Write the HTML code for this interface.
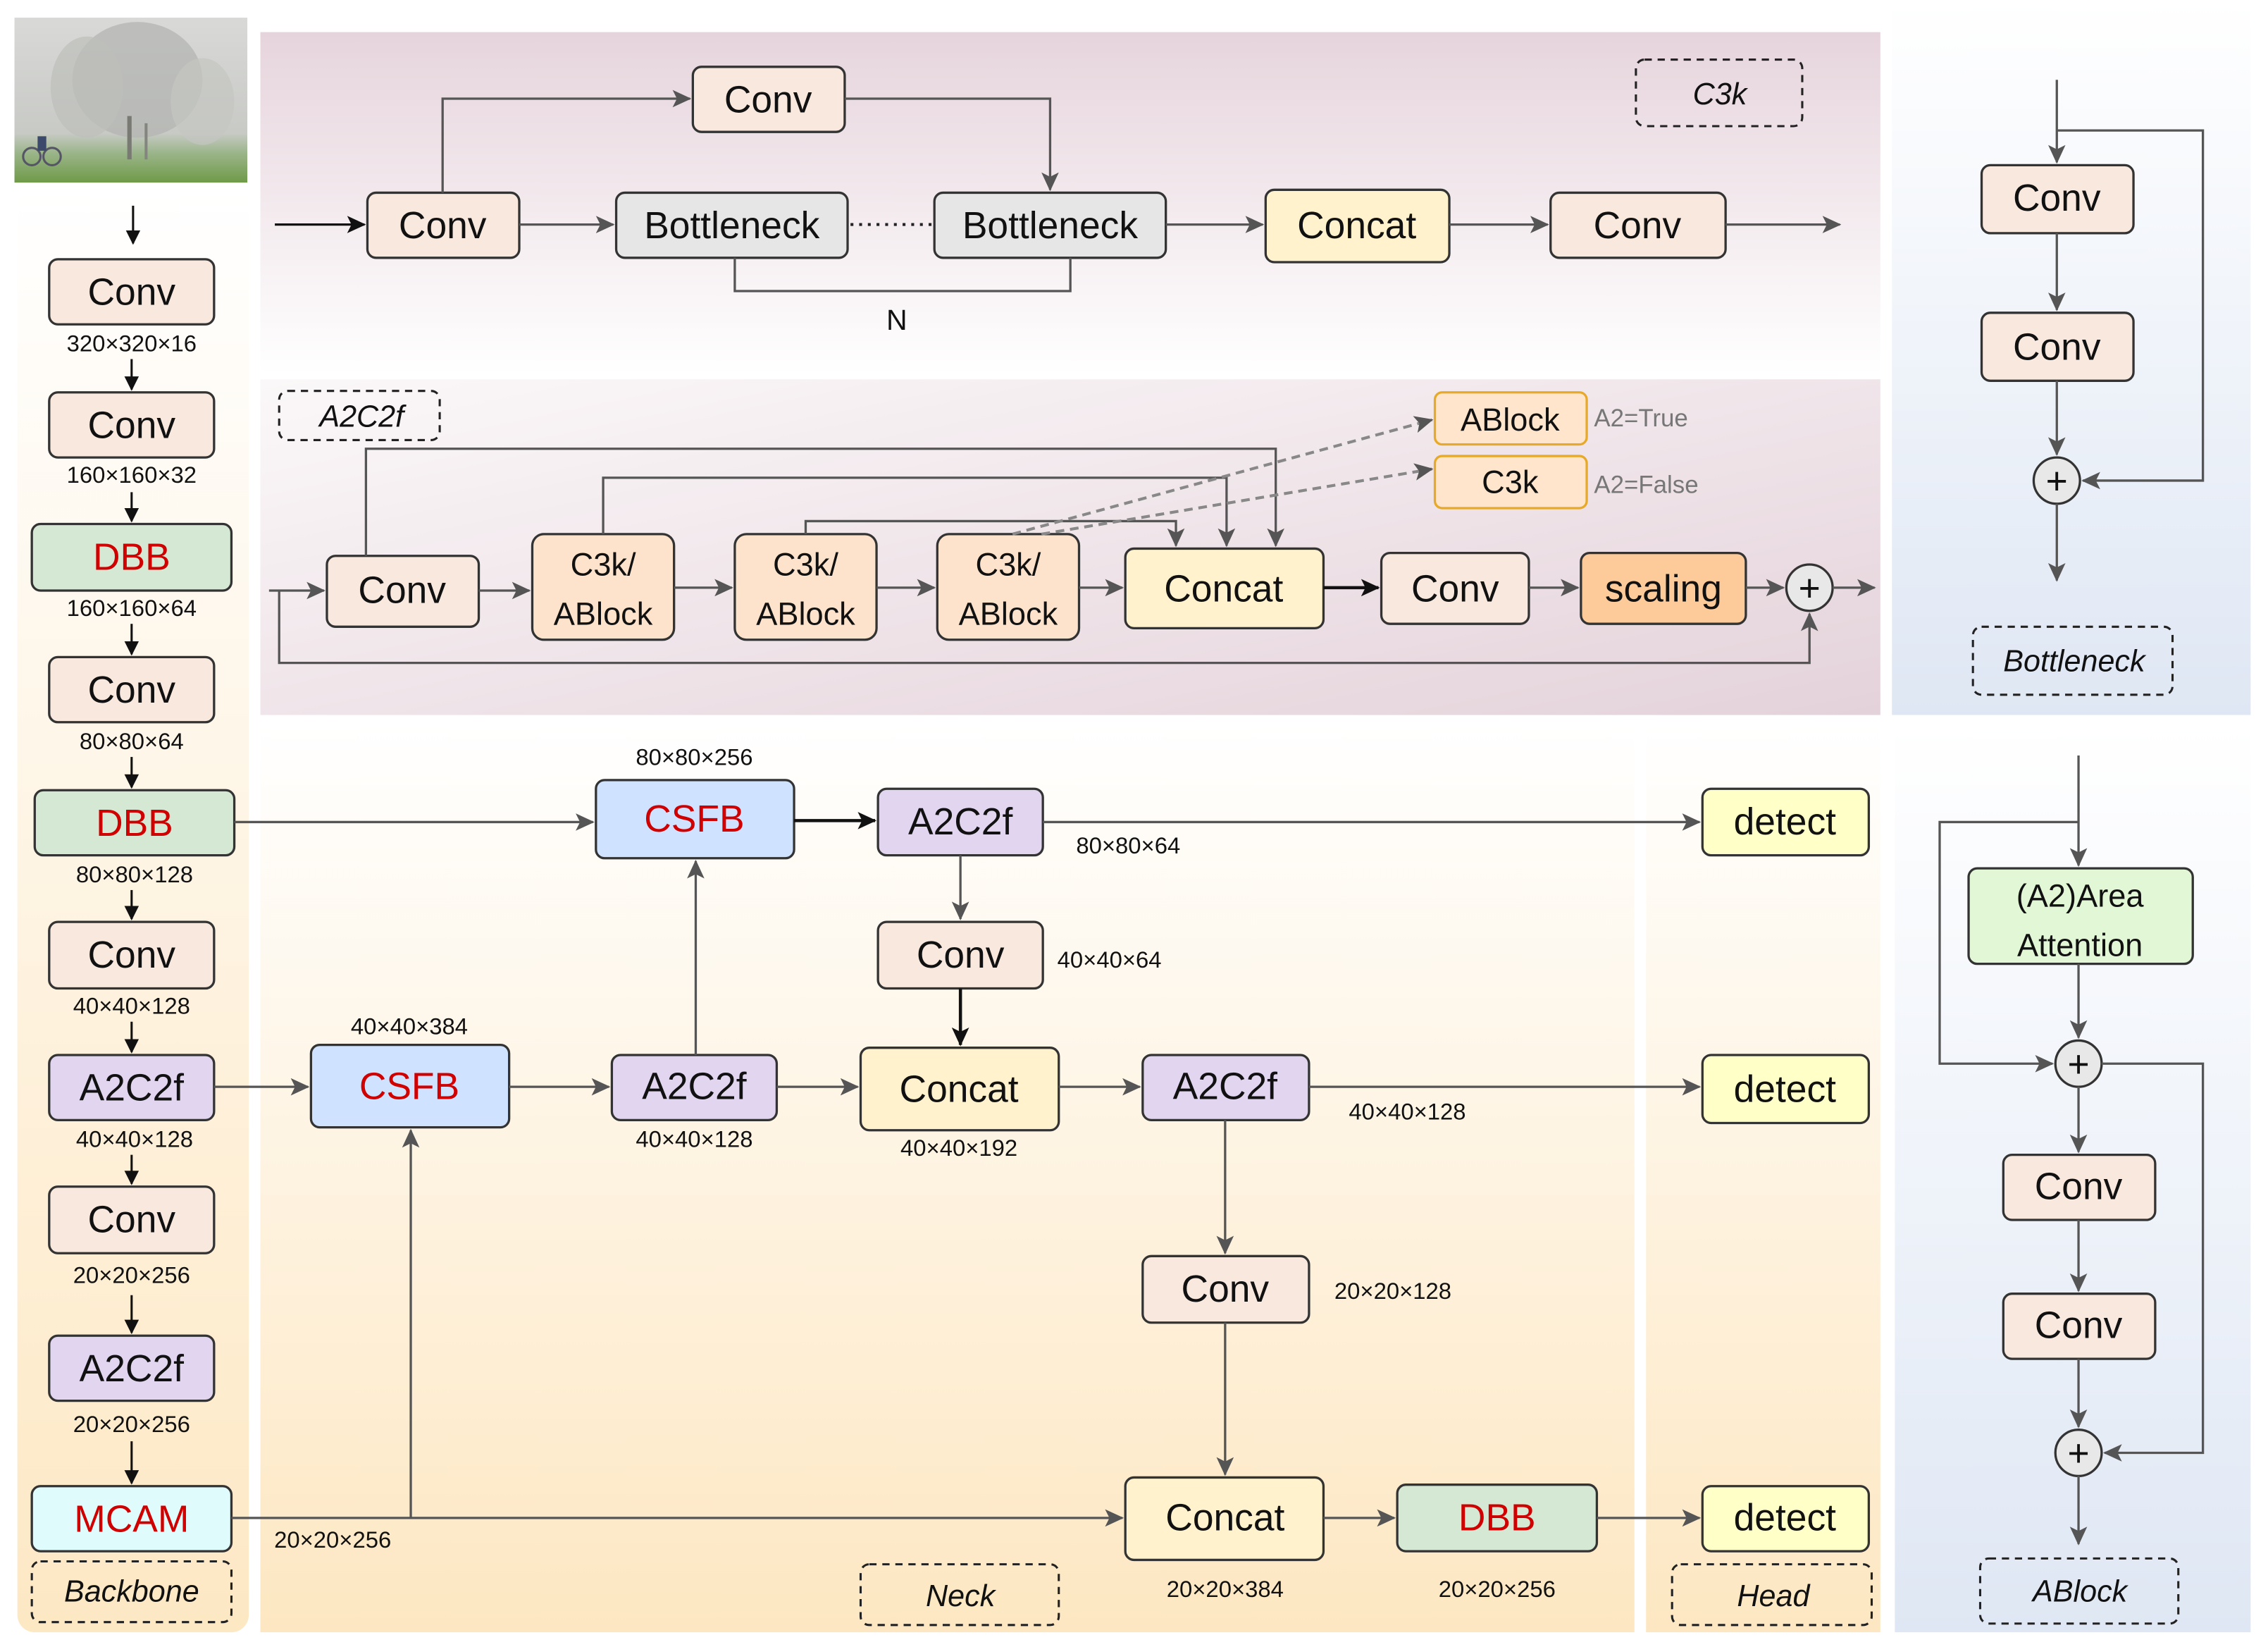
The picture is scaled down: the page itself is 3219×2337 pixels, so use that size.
<!DOCTYPE html>
<html><head><meta charset="utf-8"><style>
html,body{margin:0;padding:0;background:#fff;}
svg{display:block;}
text{font-family:"Liberation Sans",Arial,sans-serif;}
</style></head><body>
<svg width="3219" height="2337" viewBox="0 0 1568 1138" xmlns="http://www.w3.org/2000/svg">
<defs>
<marker id="ag" markerUnits="userSpaceOnUse" markerWidth="14" markerHeight="12" refX="12" refY="6" orient="auto"><path d="M0,0 L13,6 L0,12 L3,6 z" fill="#555"/></marker>
<marker id="ak" markerUnits="userSpaceOnUse" markerWidth="14" markerHeight="12" refX="12" refY="6" orient="auto"><path d="M0,0 L13,6 L0,12 L3,6 z" fill="#111"/></marker>
<marker id="as" markerUnits="userSpaceOnUse" markerWidth="10" markerHeight="10" refX="9" refY="5" orient="auto"><path d="M0,0 L10,5 L0,10 z" fill="#111"/></marker>
<linearGradient id="gbb" x1="0" y1="0" x2="0" y2="1"><stop offset="0" stop-color="#ffffff"/><stop offset="1" stop-color="#fde8c4"/></linearGradient>
<linearGradient id="gtop" x1="0" y1="0" x2="0" y2="1"><stop offset="0" stop-color="#e6d4dc"/><stop offset="1" stop-color="#ffffff"/></linearGradient>
<linearGradient id="gmid" x1="0" y1="0" x2="1" y2="1"><stop offset="0" stop-color="#fbf8f9"/><stop offset="1" stop-color="#e4d2da"/></linearGradient>
<linearGradient id="gblue" x1="0" y1="0" x2="0" y2="1"><stop offset="0" stop-color="#ffffff"/><stop offset="1" stop-color="#dfe7f4"/></linearGradient>
<linearGradient id="gneck" x1="0" y1="0" x2="0" y2="1"><stop offset="0" stop-color="#ffffff"/><stop offset="1" stop-color="#fde7c2"/></linearGradient>
<linearGradient id="gimg" x1="0" y1="0" x2="0" y2="1"><stop offset="0" stop-color="#d9d9d7"/><stop offset="0.7" stop-color="#c8cac6"/><stop offset="0.82" stop-color="#9bb58a"/><stop offset="1" stop-color="#6f9a48"/></linearGradient>
</defs>

<!-- panels -->
<rect x="12" y="130" width="160" height="998" rx="12" fill="url(#gbb)"/>
<rect x="180" y="22" width="1120" height="236" fill="url(#gtop)"/>
<rect x="180" y="262" width="1120" height="232" fill="url(#gmid)"/>
<rect x="1308" y="0" width="248" height="494" fill="url(#gblue)"/>
<rect x="180" y="500" width="950" height="628" fill="url(#gneck)"/>
<rect x="1138" y="500" width="162" height="628" fill="url(#gneck)"/>
<rect x="1310" y="500" width="246" height="628" fill="url(#gblue)"/>

<!-- image -->
<rect x="10" y="12" width="161" height="114" fill="url(#gimg)"/>
<ellipse cx="95" cy="55" rx="45" ry="40" fill="#b2b4b0" opacity="0.7"/>
<ellipse cx="60" cy="60" rx="25" ry="35" fill="#bdbfbb" opacity="0.7"/>
<ellipse cx="140" cy="70" rx="22" ry="30" fill="#c4c6c2" opacity="0.7"/>
<rect x="88" y="80" width="3" height="30" fill="#7a7a74"/>
<rect x="100" y="85" width="2" height="25" fill="#85857f"/>
<circle cx="22" cy="108" r="6" fill="none" stroke="#556" stroke-width="1.5"/>
<circle cx="36" cy="108" r="6" fill="none" stroke="#556" stroke-width="1.5"/>
<rect x="26" y="94" width="6" height="10" fill="#3b4a6b"/>

<g stroke="#333" stroke-width="1.6">
<!-- backbone boxes -->
<rect x="34" y="179" width="114" height="45" rx="6" fill="#f8e8de"/>
<rect x="34" y="271" width="114" height="45" rx="6" fill="#f8e8de"/>
<rect x="22" y="362" width="138" height="46" rx="6" fill="#d5e8d4"/>
<rect x="34" y="454" width="114" height="45" rx="6" fill="#f8e8de"/>
<rect x="24" y="546" width="138" height="45" rx="6" fill="#d5e8d4"/>
<rect x="34" y="637" width="114" height="46" rx="6" fill="#f8e8de"/>
<rect x="34" y="729" width="114" height="45" rx="6" fill="#e1d5f0"/>
<rect x="34" y="820" width="114" height="46" rx="6" fill="#f8e8de"/>
<rect x="34" y="923" width="114" height="45" rx="6" fill="#e1d5f0"/>
<rect x="22" y="1027" width="138" height="45" rx="6" fill="#e0fbfb"/>

<!-- C3k -->
<rect x="254" y="133" width="105" height="45" rx="6" fill="#f8e8de"/>
<rect x="479" y="46" width="105" height="45" rx="6" fill="#f8e8de"/>
<rect x="426" y="133" width="160" height="45" rx="6" fill="#e6e6e6"/>
<rect x="646" y="133" width="160" height="45" rx="6" fill="#e6e6e6"/>
<rect x="875" y="131" width="127" height="50" rx="6" fill="#fff2cc"/>
<rect x="1072" y="133" width="121" height="45" rx="6" fill="#f8e8de"/>

<!-- A2C2f -->
<rect x="226" y="384" width="105" height="49" rx="6" fill="#f8e8de"/>
<rect x="368" y="369" width="98" height="73" rx="8" fill="#fde3cb"/>
<rect x="508" y="369" width="98" height="73" rx="8" fill="#fde3cb"/>
<rect x="648" y="369" width="98" height="73" rx="8" fill="#fde3cb"/>
<rect x="778" y="379" width="137" height="55" rx="6" fill="#fff2cc"/>
<rect x="955" y="382" width="102" height="49" rx="6" fill="#f8e8de"/>
<rect x="1093" y="382" width="114" height="49" rx="6" fill="#fdcb9a"/>
<circle cx="1251" cy="406" r="16" fill="#e8e8e8"/>

<!-- Bottleneck -->
<rect x="1370" y="114" width="105" height="47" rx="6" fill="#f8e8de"/>
<rect x="1370" y="216" width="105" height="47" rx="6" fill="#f8e8de"/>
<circle cx="1422" cy="332" r="16" fill="#e8e8e8"/>

<!-- Neck -->
<rect x="412" y="539" width="137" height="54" rx="6" fill="#cfe2ff"/>
<rect x="607" y="545" width="114" height="46" rx="6" fill="#e1d5f0"/>
<rect x="607" y="637" width="114" height="46" rx="6" fill="#f8e8de"/>
<rect x="595" y="724" width="137" height="57" rx="6" fill="#fff2cc"/>
<rect x="215" y="722" width="137" height="57" rx="6" fill="#cfe2ff"/>
<rect x="423" y="729" width="114" height="45" rx="6" fill="#e1d5f0"/>
<rect x="790" y="729" width="115" height="45" rx="6" fill="#e1d5f0"/>
<rect x="790" y="868" width="115" height="46" rx="6" fill="#f8e8de"/>
<rect x="778" y="1021" width="137" height="57" rx="6" fill="#fff2cc"/>
<rect x="966" y="1026" width="138" height="46" rx="6" fill="#d5e8d4"/>
<rect x="1177" y="545" width="115" height="46" rx="6" fill="#ffffc8"/>
<rect x="1177" y="729" width="115" height="47" rx="6" fill="#ffffc8"/>
<rect x="1177" y="1027" width="115" height="45" rx="6" fill="#ffffc8"/>

<!-- ABlock -->
<rect x="1361" y="600" width="155" height="66" rx="6" fill="#e2f7d6"/>
<circle cx="1437" cy="735" r="16" fill="#e8e8e8"/>
<rect x="1385" y="798" width="105" height="45" rx="6" fill="#f8e8de"/>
<rect x="1385" y="894" width="105" height="45" rx="6" fill="#f8e8de"/>
<circle cx="1437" cy="1004" r="16" fill="#e8e8e8"/>
</g>

<!-- orange option boxes -->
<rect x="992" y="271" width="105" height="36" rx="5" fill="#ffe5cc" stroke="#e6a92a" stroke-width="1.6"/>
<rect x="992" y="315" width="105" height="36" rx="5" fill="#ffe5cc" stroke="#e6a92a" stroke-width="1.6"/>

<!-- dashed labels -->
<g fill="none" stroke="#222" stroke-width="1.5" stroke-dasharray="5,4">
<rect x="22" y="1079" width="138" height="42" rx="6"/>
<rect x="1131" y="41" width="115" height="46" rx="6"/>
<rect x="193" y="270" width="111" height="34" rx="6"/>
<rect x="1364" y="433" width="138" height="47" rx="6"/>
<rect x="595" y="1081" width="137" height="42" rx="6"/>
<rect x="1156" y="1081" width="138" height="42" rx="6"/>
<rect x="1369" y="1077" width="137" height="45" rx="6"/>
</g>

<!-- backbone arrows -->
<g stroke="#111" stroke-width="1.5" fill="none" marker-end="url(#as)">
<path d="M92,142 V168"/>
<path d="M91,248 V269"/>
<path d="M91,340 V360"/>
<path d="M91,431 V452"/>
<path d="M91,523 V544"/>
<path d="M91,615 V635"/>
<path d="M91,706 V727"/>
<path d="M91,798 V818"/>
<path d="M91,895 V921"/>
<path d="M91,996 V1025"/>
</g>

<!-- gray connectors -->
<g stroke="#555" stroke-width="1.6" fill="none" marker-end="url(#ag)">
<path d="M190,155 H252" stroke="#111" marker-end="url(#ak)"/>
<path d="M306,133 V68 H477"/>
<path d="M584,68 H726 V131"/>
<path d="M359,155 H424"/>
<path d="M806,155 H873"/>
<path d="M1002,155 H1070"/>
<path d="M1193,155 H1272"/>
<path d="M186,408 H224"/>
<path d="M193,408 V458 H1251 V424"/>
<path d="M253,384 V310 H882 V377"/>
<path d="M417,369 V330 H848 V377"/>
<path d="M557,369 V360 H813 V377"/>
<path d="M331,408 H366"/>
<path d="M466,406 H506"/>
<path d="M606,406 H646"/>
<path d="M746,406 H776"/>
<path d="M1057,406 H1091"/>
<path d="M1207,406 H1233"/>
<path d="M1267,406 H1296"/>
<path d="M1422,55 V112"/>
<path d="M1422,161 V214"/>
<path d="M1422,263 V314"/>
<path d="M1422,90 H1523 V332 H1440"/>
<path d="M1422,348 V401"/>
<path d="M162,568 H410"/>
<path d="M721,568 H1175"/>
<path d="M664,591 V635"/>
<path d="M148,751 H213"/>
<path d="M352,751 H421"/>
<path d="M481,729 V595"/>
<path d="M537,751 H593"/>
<path d="M732,751 H788"/>
<path d="M905,751 H1175"/>
<path d="M847,774 V866"/>
<path d="M847,914 V1019"/>
<path d="M160,1049 H776"/>
<path d="M284,1049 V781"/>
<path d="M915,1049 H964"/>
<path d="M1104,1049 H1175"/>
<path d="M1437,522 V598"/>
<path d="M1437,568 H1341 V735 H1419"/>
<path d="M1437,666 V717"/>
<path d="M1437,751 V796"/>
<path d="M1437,843 V892"/>
<path d="M1437,939 V986"/>
<path d="M1453,735 H1523 V1004 H1455"/>
<path d="M1437,1020 V1067"/>
</g>
<g stroke="#111" stroke-width="2.2" fill="none" marker-end="url(#ak)">
<path d="M915,406 H953"/>
<path d="M549,567 H605"/>
<path d="M664,683 V722"/>
</g>
<path d="M508,178 V201 H740 V178" stroke="#555" stroke-width="1.6" fill="none"/>
<path d="M588,155 H644" stroke="#222" stroke-width="2" stroke-dasharray="2,4" fill="none"/>
<g stroke="#888" stroke-width="2" stroke-dasharray="6,4" fill="none" marker-end="url(#ag)">
<path d="M700,369 L990,290"/>
<path d="M720,369 L990,324"/>
</g>

<!-- plus signs -->
<g font-size="26" text-anchor="middle" fill="#111">
<text x="1251" y="415">+</text>
<text x="1422" y="341">+</text>
<text x="1437" y="744">+</text>
<text x="1437" y="1013">+</text>
</g>

<!-- box labels -->
<g font-size="26" text-anchor="middle" dominant-baseline="central" fill="#111">
<text x="91" y="202">Conv</text>
<text x="91" y="294">Conv</text>
<text x="91" y="385" fill="#d00000">DBB</text>
<text x="91" y="477">Conv</text>
<text x="93" y="569" fill="#d00000">DBB</text>
<text x="91" y="660">Conv</text>
<text x="91" y="752">A2C2f</text>
<text x="91" y="843">Conv</text>
<text x="91" y="946">A2C2f</text>
<text x="91" y="1050" fill="#d00000">MCAM</text>
<text x="306" y="156">Conv</text>
<text x="531" y="69">Conv</text>
<text x="506" y="156">Bottleneck</text>
<text x="726" y="156">Bottleneck</text>
<text x="938" y="156">Concat</text>
<text x="1132" y="156">Conv</text>
<text x="278" y="408">Conv</text>
<text x="846" y="407">Concat</text>
<text x="1006" y="407">Conv</text>
<text x="1150" y="407">scaling</text>
<text x="1422" y="137">Conv</text>
<text x="1422" y="240">Conv</text>
<text x="480" y="566" fill="#d00000">CSFB</text>
<text x="664" y="568">A2C2f</text>
<text x="664" y="660">Conv</text>
<text x="663" y="753">Concat</text>
<text x="283" y="751" fill="#d00000">CSFB</text>
<text x="480" y="751">A2C2f</text>
<text x="847" y="751">A2C2f</text>
<text x="847" y="891">Conv</text>
<text x="847" y="1049">Concat</text>
<text x="1035" y="1049" fill="#d00000">DBB</text>
<text x="1234" y="568">detect</text>
<text x="1234" y="753">detect</text>
<text x="1234" y="1049">detect</text>
<text x="1437" y="1111" font-size="1" fill="none"> </text>
<text x="1422" y="816" font-size="1" fill="none"> </text>
<text x="1437" y="820">Conv</text>
<text x="1437" y="916">Conv</text>
</g>
<g font-size="22" text-anchor="middle" dominant-baseline="central" fill="#111">
<text x="417" y="390">C3k/</text><text x="417" y="424">ABlock</text>
<text x="557" y="390">C3k/</text><text x="557" y="424">ABlock</text>
<text x="697" y="390">C3k/</text><text x="697" y="424">ABlock</text>
<text x="1044" y="290">ABlock</text>
<text x="1044" y="333">C3k</text>
<text x="1438" y="619">(A2)Area</text>
<text x="1438" y="653">Attention</text>
<text x="620" y="221" font-size="20">N</text>
</g>
<g font-size="21" font-style="italic" text-anchor="middle" dominant-baseline="central" fill="#111">
<text x="91" y="1100">Backbone</text>
<text x="1189" y="65">C3k</text>
<text x="250" y="288">A2C2f</text>
<text x="1434" y="457">Bottleneck</text>
<text x="664" y="1103">Neck</text>
<text x="1226" y="1103">Head</text>
<text x="1438" y="1100">ABlock</text>
</g>
<g font-size="17" fill="#777" dominant-baseline="central">
<text x="1102" y="289">A2=True</text>
<text x="1102" y="335">A2=False</text>
</g>
<!-- size labels -->
<g font-size="16" text-anchor="middle" dominant-baseline="central" fill="#111">
<text x="91" y="237">320×320×16</text>
<text x="91" y="328">160×160×32</text>
<text x="91" y="420">160×160×64</text>
<text x="91" y="512">80×80×64</text>
<text x="93" y="604">80×80×128</text>
<text x="91" y="695">40×40×128</text>
<text x="93" y="787">40×40×128</text>
<text x="91" y="881">20×20×256</text>
<text x="91" y="984">20×20×256</text>
<text x="480" y="523">80×80×256</text>
<text x="780" y="584">80×80×64</text>
<text x="767" y="663">40×40×64</text>
<text x="663" y="793">40×40×192</text>
<text x="283" y="709">40×40×384</text>
<text x="480" y="787">40×40×128</text>
<text x="973" y="768">40×40×128</text>
<text x="963" y="892">20×20×128</text>
<text x="230" y="1064">20×20×256</text>
<text x="847" y="1098">20×20×384</text>
<text x="1035" y="1098">20×20×256</text>
</g>
</svg>
</body></html>
